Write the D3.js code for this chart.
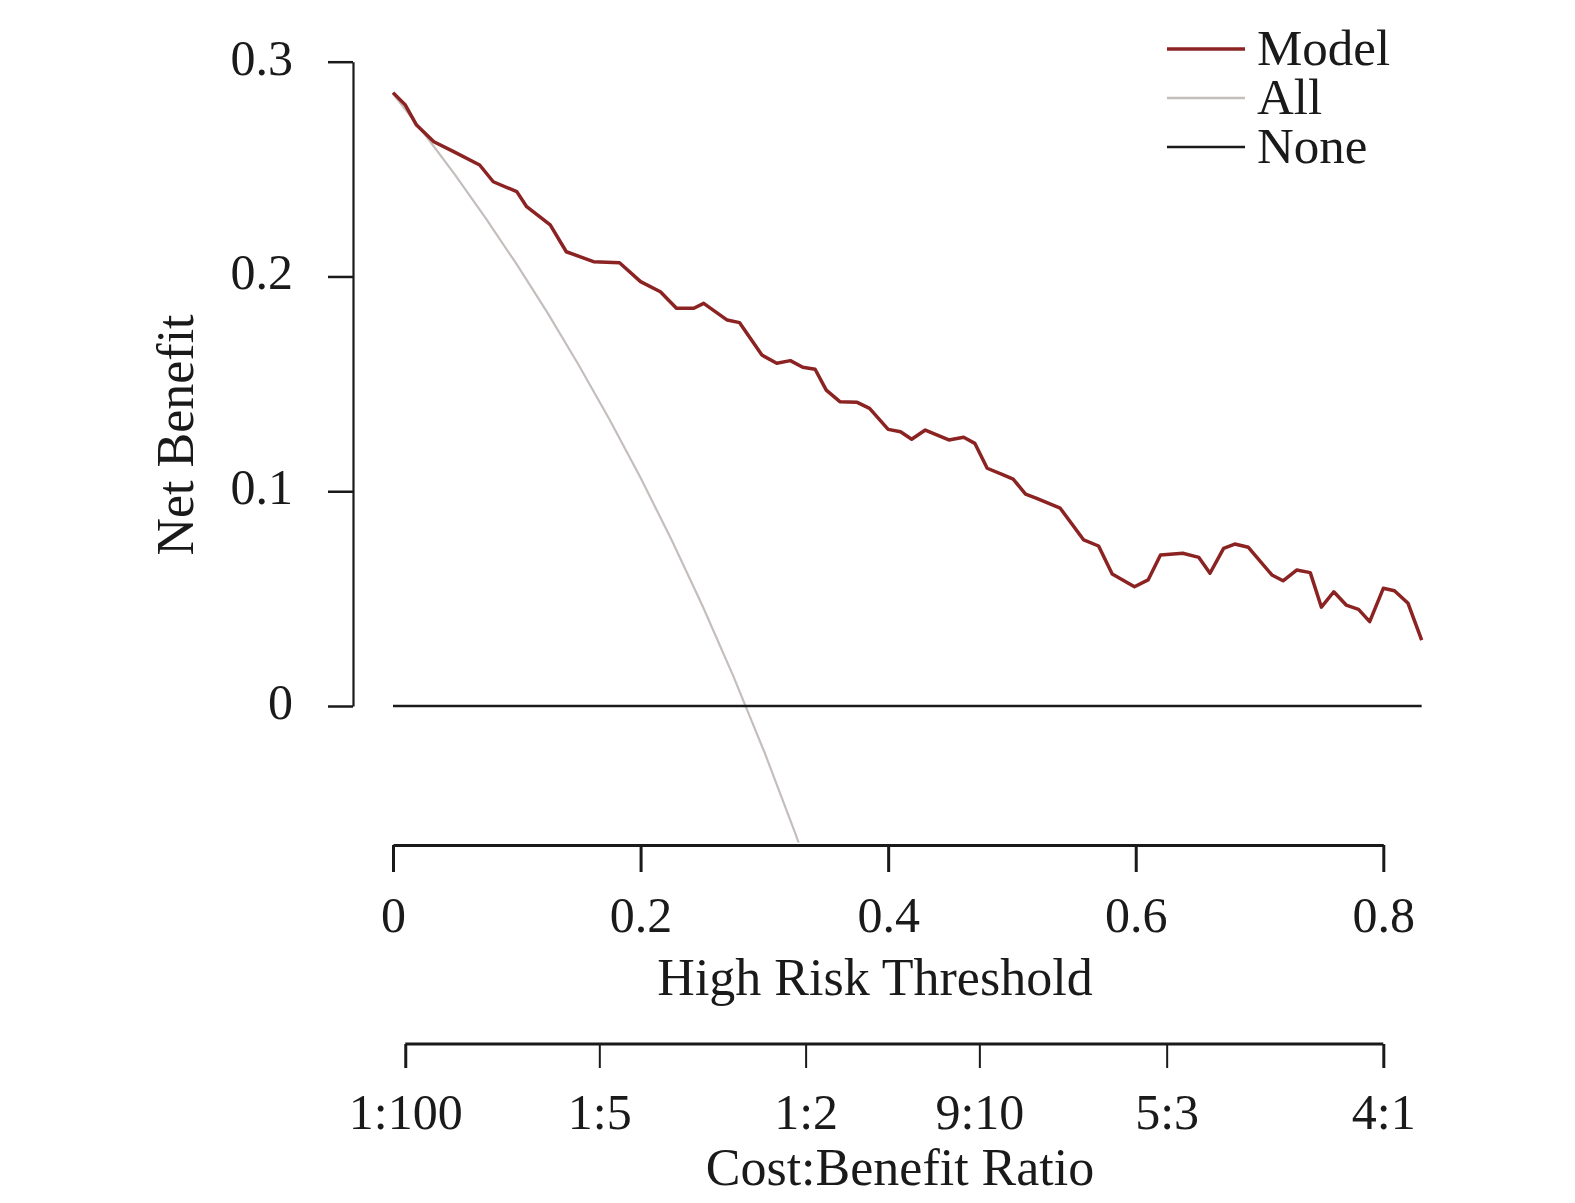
<!DOCTYPE html>
<html>
<head>
<meta charset="utf-8">
<script src="https://cdn.jsdelivr.net/npm/d3@7"></script>
<style>
  body { margin: 0; background: #fff; }
  svg { display: block; font-family: 'Liberation Serif', 'Times New Roman', serif; }
</style>
</head>
<body>
<div id="chart"></div>
<script>
// Model curve (threshold, net benefit)
const modelT = [0.000, 0.010, 0.019, 0.033, 0.049, 0.070, 0.081, 0.100, 0.108, 0.127,
  0.140, 0.162, 0.183, 0.200, 0.216, 0.229, 0.243, 0.251, 0.270, 0.280,
  0.298, 0.310, 0.321, 0.331, 0.341, 0.350, 0.361, 0.375, 0.385, 0.400,
  0.410, 0.419, 0.430, 0.449, 0.461, 0.470, 0.480, 0.493, 0.501, 0.511,
  0.520, 0.539, 0.558, 0.570, 0.581, 0.599, 0.610, 0.620, 0.638, 0.651,
  0.660, 0.671, 0.680, 0.691, 0.710, 0.719, 0.730, 0.741, 0.750, 0.760,
  0.770, 0.780, 0.789, 0.800, 0.809, 0.820, 0.831];
const modelNB = [0.2856, 0.2798, 0.2705, 0.2627, 0.2581, 0.2519, 0.2441, 0.2395, 0.2325, 0.2240,
  0.2115, 0.2069, 0.2064, 0.1976, 0.1929, 0.1852, 0.1852, 0.1875, 0.1797, 0.1785,
  0.1634, 0.1596, 0.1608, 0.1577, 0.1568, 0.1471, 0.1417, 0.1414, 0.1386, 0.1288,
  0.1277, 0.1242, 0.1285, 0.1239, 0.1251, 0.1223, 0.1107, 0.1076, 0.1056, 0.0987,
  0.0967, 0.0921, 0.0773, 0.0745, 0.0615, 0.0555, 0.0587, 0.0703, 0.0711, 0.0692,
  0.0618, 0.0734, 0.0754, 0.0739, 0.0610, 0.0583, 0.0633, 0.0621, 0.0460, 0.0532,
  0.0470, 0.0450, 0.0393, 0.0548, 0.0537, 0.0478, 0.0307];

// "All" curve (treat everyone)
const allT = [0, 0.025, 0.05, 0.075, 0.1, 0.125, 0.15, 0.175, 0.2, 0.225, 0.25, 0.275, 0.3, 0.325, 0.35];
const allNB = [0.285, 0.2667, 0.2474, 0.2270, 0.2056, 0.1829, 0.1588, 0.1333, 0.1063, 0.0774,
  0.0467, 0.0138, -0.0214, -0.0593, -0.1000];

// "None" curve (treat no one)
const noneT = [0, 0.831];
const noneNB = [0, 0];

const xTicks = [0, 0.2, 0.4, 0.6, 0.8];
const yTicks = [0, 0.1, 0.2, 0.3];
const ratioLabels = ['1:100', '1:5', '1:2', '9:10', '5:3', '4:1'];
const ratioT = [1 / 101, 1 / 6, 1 / 3, 9 / 19, 5 / 8, 4 / 5];

const legendLabels = ['Model', 'All', 'None'];
const legendColors = ['#8b2323', '#c4bfbc', '#1a1a1a'];
const legendWidths = [3.5, 2.5, 2.5];

const W = 1575, H = 1203;
const yFloor = -0.0635; // bottom of the plotting region

const svg = d3.select('#chart').append('svg')
  .attr('width', W).attr('height', H)
  .attr('viewBox', `0 0 ${W} ${H}`);

const x = d3.scaleLinear().domain([0, 0.8]).range([393, 1383.3]);
const y = d3.scaleLinear().domain([0, 0.3]).range([706, 61.7]);

// clip region for the curves
svg.append('defs').append('clipPath').attr('id', 'plotClip')
  .append('rect')
  .attr('x', 360).attr('y', 0)
  .attr('width', 1100).attr('height', y(yFloor));

const line = d3.line().x((d) => x(d[0])).y((d) => y(d[1]));
const curves = svg.append('g').attr('clip-path', 'url(#plotClip)');

curves.append('path')
  .attr('d', line(d3.zip(allT, allNB)))
  .attr('fill', 'none')
  .attr('stroke', legendColors[1])
  .attr('stroke-width', 2.2);

curves.append('path')
  .attr('d', line(d3.zip(modelT, modelNB)))
  .attr('fill', 'none')
  .attr('stroke', legendColors[0])
  .attr('stroke-width', 3.5)
  .attr('stroke-linejoin', 'round');

curves.append('path')
  .attr('d', line(d3.zip(noneT, noneNB)))
  .attr('fill', 'none')
  .attr('stroke', legendColors[2])
  .attr('stroke-width', 2.5);

// Y axis
const yAxis = svg.append('g')
  .attr('transform', 'translate(353,0)')
  .call(d3.axisLeft(y).tickValues(yTicks).tickSize(25).tickSizeOuter(0).tickPadding(35)
    .tickFormat(d3.format('')));
yAxis.select('.domain').attr('stroke', '#1a1a1a').attr('stroke-width', 2.2);
yAxis.selectAll('.tick line').attr('stroke', '#1a1a1a').attr('stroke-width', 2.5);
yAxis.selectAll('.tick text')
  .attr('font-size', 50).attr('font-family', "'Liberation Serif', serif")
  .attr('fill', '#1a1a1a').attr('dy', '0.25em');

// X axis (threshold)
const xAxis = svg.append('g')
  .attr('transform', 'translate(0,845)')
  .call(d3.axisBottom(x).tickValues(xTicks).tickSize(27).tickSizeOuter(0).tickPadding(24)
    .tickFormat(d3.format('')));
xAxis.select('.domain').attr('stroke', '#1a1a1a').attr('stroke-width', 3);
xAxis.selectAll('.tick line').attr('stroke', '#1a1a1a').attr('stroke-width', 3);
xAxis.selectAll('.tick text')
  .attr('font-size', 50).attr('font-family', "'Liberation Serif', serif")
  .attr('fill', '#1a1a1a');

svg.append('text')
  .attr('x', 875).attr('y', 995)
  .attr('text-anchor', 'middle')
  .attr('font-size', 52)
  .attr('fill', '#1a1a1a')
  .text('High Risk Threshold');

// Cost:Benefit ratio axis
const rAxis = svg.append('g')
  .attr('transform', 'translate(0,1044)')
  .call(d3.axisBottom(x).tickValues(ratioT).tickSize(24).tickPadding(25)
    .tickFormat((d, i) => ratioLabels[i]));
rAxis.select('.domain').remove();
rAxis.append('line')
  .attr('x1', x(ratioT[0])).attr('x2', x(ratioT[ratioT.length - 1]))
  .attr('y1', 0).attr('y2', 0)
  .attr('stroke', '#1a1a1a').attr('stroke-width', 3);
rAxis.selectAll('.tick line').attr('stroke', '#1a1a1a')
  .attr('stroke-width', (d, i) => (i === 0 || i === ratioT.length - 1 ? 3 : 2));
rAxis.selectAll('.tick text')
  .attr('font-size', 50).attr('font-family', "'Liberation Serif', serif")
  .attr('fill', '#1a1a1a');

svg.append('text')
  .attr('x', 900).attr('y', 1185)
  .attr('text-anchor', 'middle')
  .attr('font-size', 52)
  .attr('fill', '#1a1a1a')
  .text('Cost:Benefit Ratio');

// Y title
svg.append('text')
  .attr('transform', 'translate(193,435) rotate(-90)')
  .attr('text-anchor', 'middle')
  .attr('font-size', 52)
  .attr('fill', '#1a1a1a')
  .text('Net Benefit');

// Legend
const legend = svg.append('g').attr('transform', 'translate(1167,49)');
const items = legend.selectAll('g').data(legendLabels).enter().append('g')
  .attr('transform', (d, i) => `translate(0,${i * 49})`);
items.append('line')
  .attr('x1', 0).attr('x2', 78)
  .attr('stroke', (d, i) => legendColors[i])
  .attr('stroke-width', (d, i) => legendWidths[i]);
items.append('text')
  .attr('x', 90).attr('dy', 16)
  .attr('font-size', 51)
  .attr('fill', '#1a1a1a')
  .text((d) => d);
</script>
</body>
</html>
